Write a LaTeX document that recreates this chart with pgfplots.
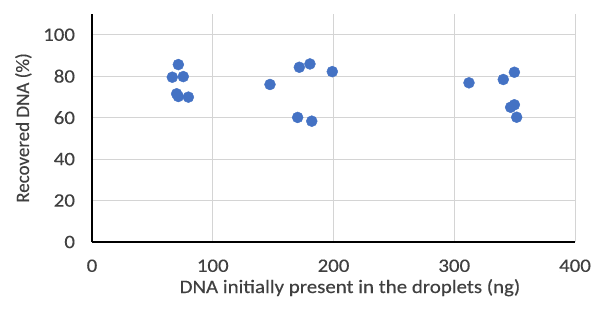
\documentclass[border=0pt]{standalone}
\usepackage{pgfplots}
\pgfplotsset{compat=1.18}
\usepackage{fontspec}
\setmainfont{Carlito}[FakeBold=0.3]
\newfontfamily\hfont{Carlito}[FakeStretch=1.1, FakeBold=0.3]
\definecolor{ptblue}{HTML}{4472C4}
\definecolor{gridgray}{HTML}{D4D4D4}
\definecolor{txtgray}{HTML}{404040}
\begin{document}
\begin{tikzpicture}
\begin{axis}[
  scale only axis,
  width=483pt, height=228pt,
  xmin=0, xmax=400, ymin=0, ymax=110,
  xtick={0,100,200,300,400},
  ytick={0,20,40,60,80,100},
  axis x line=bottom, axis y line=left,
  axis line style={-, line width=2.8pt, black},
  grid=major,
  major grid style={gridgray, line width=1pt},
  major tick length=0pt,
  /pgf/number format/assume math mode=true,
  ticklabel style={font=\hfont\fontsize{19}{22}\selectfont, text=txtgray},
  xticklabel style={anchor=north, yshift=-14pt},
  yticklabel style={anchor=east, xshift=-13.5pt},
  xlabel={DNA initially present in the droplets (ng)},
  ylabel={Recovered DNA (\%)},
  xlabel style={font=\hfont\fontsize{19}{22}\selectfont, text=txtgray, at={([xshift=16.5pt,yshift=-51pt]axis description cs:0.5,0)}, anchor=base},
  ylabel style={font=\fontsize{19}{22}\selectfont, text=txtgray, at={([xshift=-63pt]axis description cs:0,0.5)}, anchor=base, rotate=0},
  clip=false,
]
\addplot[only marks, mark=*, mark size=5.5pt, mark options={fill=ptblue, draw=ptblue}] coordinates {
(71.5,85.6) (66.5,79.5) (75.6,79.8) (70.1,71.5) (71.5,70.2) (79.8,69.9)
(147.4,76.0) (171.7,84.3) (180.5,85.9) (199.0,82.2) (170.3,60.1) (182.0,58.3)
(312.2,76.8) (340.6,78.4) (349.8,81.9) (349.8,66.2) (346.7,65.0) (351.7,60.2)
};
\coordinate (O) at (rel axis cs:0,0);
\coordinate (TR) at (rel axis cs:1,1);
\end{axis}
\pgfresetboundingbox
\path[use as bounding box] ([shift={(-92pt,-66pt)}]O) rectangle ([shift={(16pt,14pt)}]TR);
\end{tikzpicture}
\end{document}
